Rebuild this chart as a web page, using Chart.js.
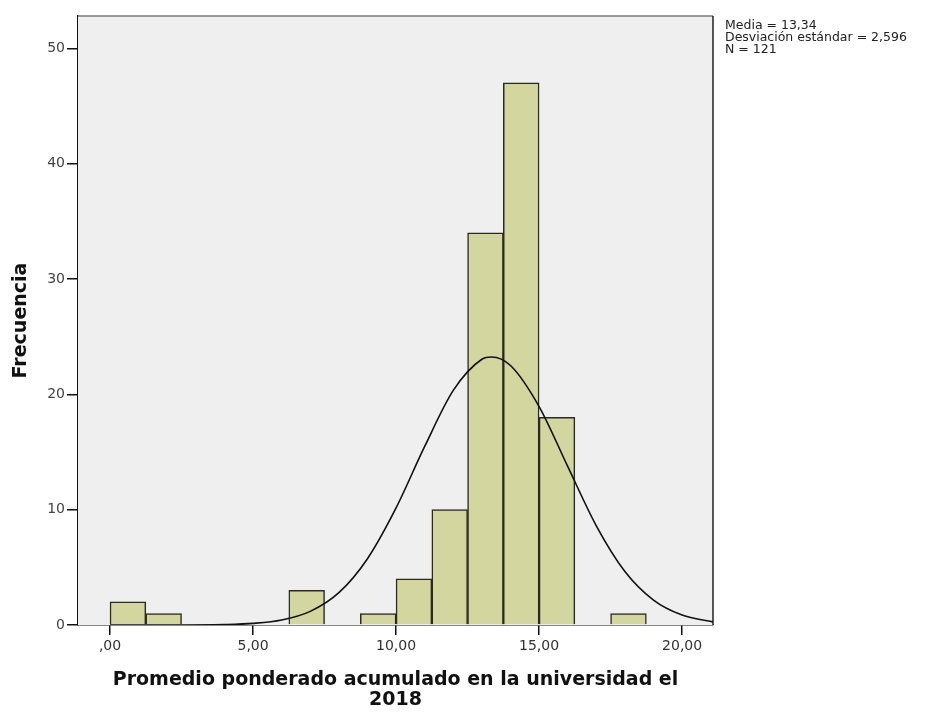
<!DOCTYPE html>
<html>
<head>
<meta charset="utf-8">
<script src="https://cdn.jsdelivr.net/npm/chart.js@4/dist/chart.umd.min.js"></script>
<style>
  html, body { margin: 0; padding: 0; background: #ffffff; }
  #wrap { width: 943px; height: 713px; position: relative; }
</style>
</head>
<body>
<div id="wrap"><canvas id="hist" width="943" height="713"></canvas></div>
<script>
// Histogram bins (lower edge 0, width 1,25) and frequencies
const binCenters = [0.625, 1.875, 3.125, 4.375, 5.625, 6.875, 8.125, 9.375, 10.625, 11.875, 13.125, 14.375, 15.625, 16.875, 18.125];
const frequencies = [2, 1, 0, 0, 0, 3, 0, 1, 4, 10, 34, 47, 18, 0, 1];

// Fitted normal curve, sampled along the x axis
const curveX = [0, 2, 4, 5, 6, 7, 8, 9, 10, 11, 12, 13, 13.34, 14, 15, 16, 17, 18, 19, 20, 21.08];
const curveY = [0, 0.001, 0.04, 0.14, 0.43, 1.18, 2.8, 5.75, 10.15, 15.48, 20.34, 23.04, 23.24, 22.5, 18.94, 13.75, 8.6, 4.64, 2.16, 0.86, 0.27];

const xTicks = [0, 5, 10, 15, 20];
const xTickLabels = [',00', '5,00', '10,00', '15,00', '20,00'];
const yTicks = [0, 10, 20, 30, 40, 50];

const statsLines = ['Media = 13,34', 'Desviación estándar = 2,596', 'N = 121'];
const xTitle = ['Promedio ponderado acumulado en la universidad el', '2018'];
const yTitle = 'Frecuencia';

const FONT = '"DejaVu Sans", Verdana, sans-serif';

const plotFrame = {
  id: 'plotFrame',
  beforeDatasetsDraw(chart) {
    const { ctx, chartArea: a } = chart;
    ctx.save();
    ctx.fillStyle = '#efefef';
    ctx.fillRect(a.left, a.top, a.right - a.left, a.bottom - a.top);
    ctx.restore();
  },
  afterDatasetsDraw(chart) {
    const { ctx, chartArea: a } = chart;
    ctx.save();
    ctx.lineWidth = 1.5;
    ctx.strokeStyle = '#777777';
    ctx.beginPath();
    ctx.moveTo(a.left, a.top);
    ctx.lineTo(a.right, a.top);
    ctx.stroke();
    ctx.strokeStyle = '#222222';
    ctx.beginPath();
    ctx.moveTo(a.right, a.top);
    ctx.lineTo(a.right, a.bottom);
    ctx.stroke();
    ctx.restore();
  },
  afterDraw(chart) {
    const { ctx, chartArea: a } = chart;
    ctx.save();
    ctx.fillStyle = '#222222';
    ctx.font = '12.5px ' + FONT;
    ctx.textBaseline = 'middle';
    ctx.textAlign = 'left';
    statsLines.forEach((t, i) => ctx.fillText(t, a.right + 12, a.top + 10 + i * 12));
    ctx.restore();
  }
};

new Chart(document.getElementById('hist'), {
  type: 'bar',
  data: {
    datasets: [
      {
        type: 'line',
        data: curveX.map((x, i) => ({ x: x, y: curveY[i] })),
        borderColor: '#111111',
        borderWidth: 1.6,
        pointRadius: 0,
        cubicInterpolationMode: 'monotone',
        fill: false,
        order: 0
      },
      {
        type: 'bar',
        data: binCenters.map((x, i) => ({ x: x, y: frequencies[i] })),
        backgroundColor: 'rgb(212, 214, 160)',
        borderColor: '#2a2a22',
        borderWidth: 1.5,
        borderSkipped: 'bottom',
        barPercentage: 1,
        categoryPercentage: 1,
        order: 1
      }
    ]
  },
  options: {
    responsive: false,
    animation: false,
    layout: { padding: { top: 16, right: 230, left: 0, bottom: 0 } },
    plugins: { legend: { display: false }, tooltip: { enabled: false } },
    scales: {
      x: {
        type: 'linear',
        offset: false,
        min: -1.12,
        max: 21.08,
        afterBuildTicks(scale) { scale.ticks = xTicks.map(v => ({ value: v })); },
        afterFit(scale) { scale.height = 88; },
        ticks: {
          callback: (v) => xTickLabels[xTicks.indexOf(v)],
          color: '#333333',
          font: { family: FONT, size: 14 },
          padding: 3,
          maxRotation: 0,
          autoSkip: false
        },
        grid: { offset: false, drawOnChartArea: false, drawTicks: true, tickLength: 10, color: '#111111', lineWidth: 1.5 },
        border: { display: true, color: '#111111', width: 1.5 },
        title: {
          display: true,
          text: xTitle,
          color: '#111111',
          font: { family: FONT, size: 19, weight: 'bold', lineHeight: 1.1 },
          padding: { top: 0, bottom: 2 }
        }
      },
      y: {
        type: 'linear',
        min: 0,
        max: 52.8,
        afterBuildTicks(scale) { scale.ticks = yTicks.map(v => ({ value: v })); },
        afterFit(scale) { scale.width = 78; },
        ticks: {
          color: '#444444',
          font: { family: FONT, size: 14 },
          padding: 2
        },
        grid: { drawOnChartArea: false, drawTicks: true, tickLength: 11, color: '#111111', lineWidth: 1.5 },
        border: { display: true, color: '#111111', width: 1.5 },
        title: {
          display: true,
          text: yTitle,
          color: '#111111',
          font: { family: FONT, size: 19, weight: 'bold' },
          padding: { top: 10, bottom: 0 }
        }
      }
    }
  },
  plugins: [plotFrame]
});
</script>
</body>
</html>
